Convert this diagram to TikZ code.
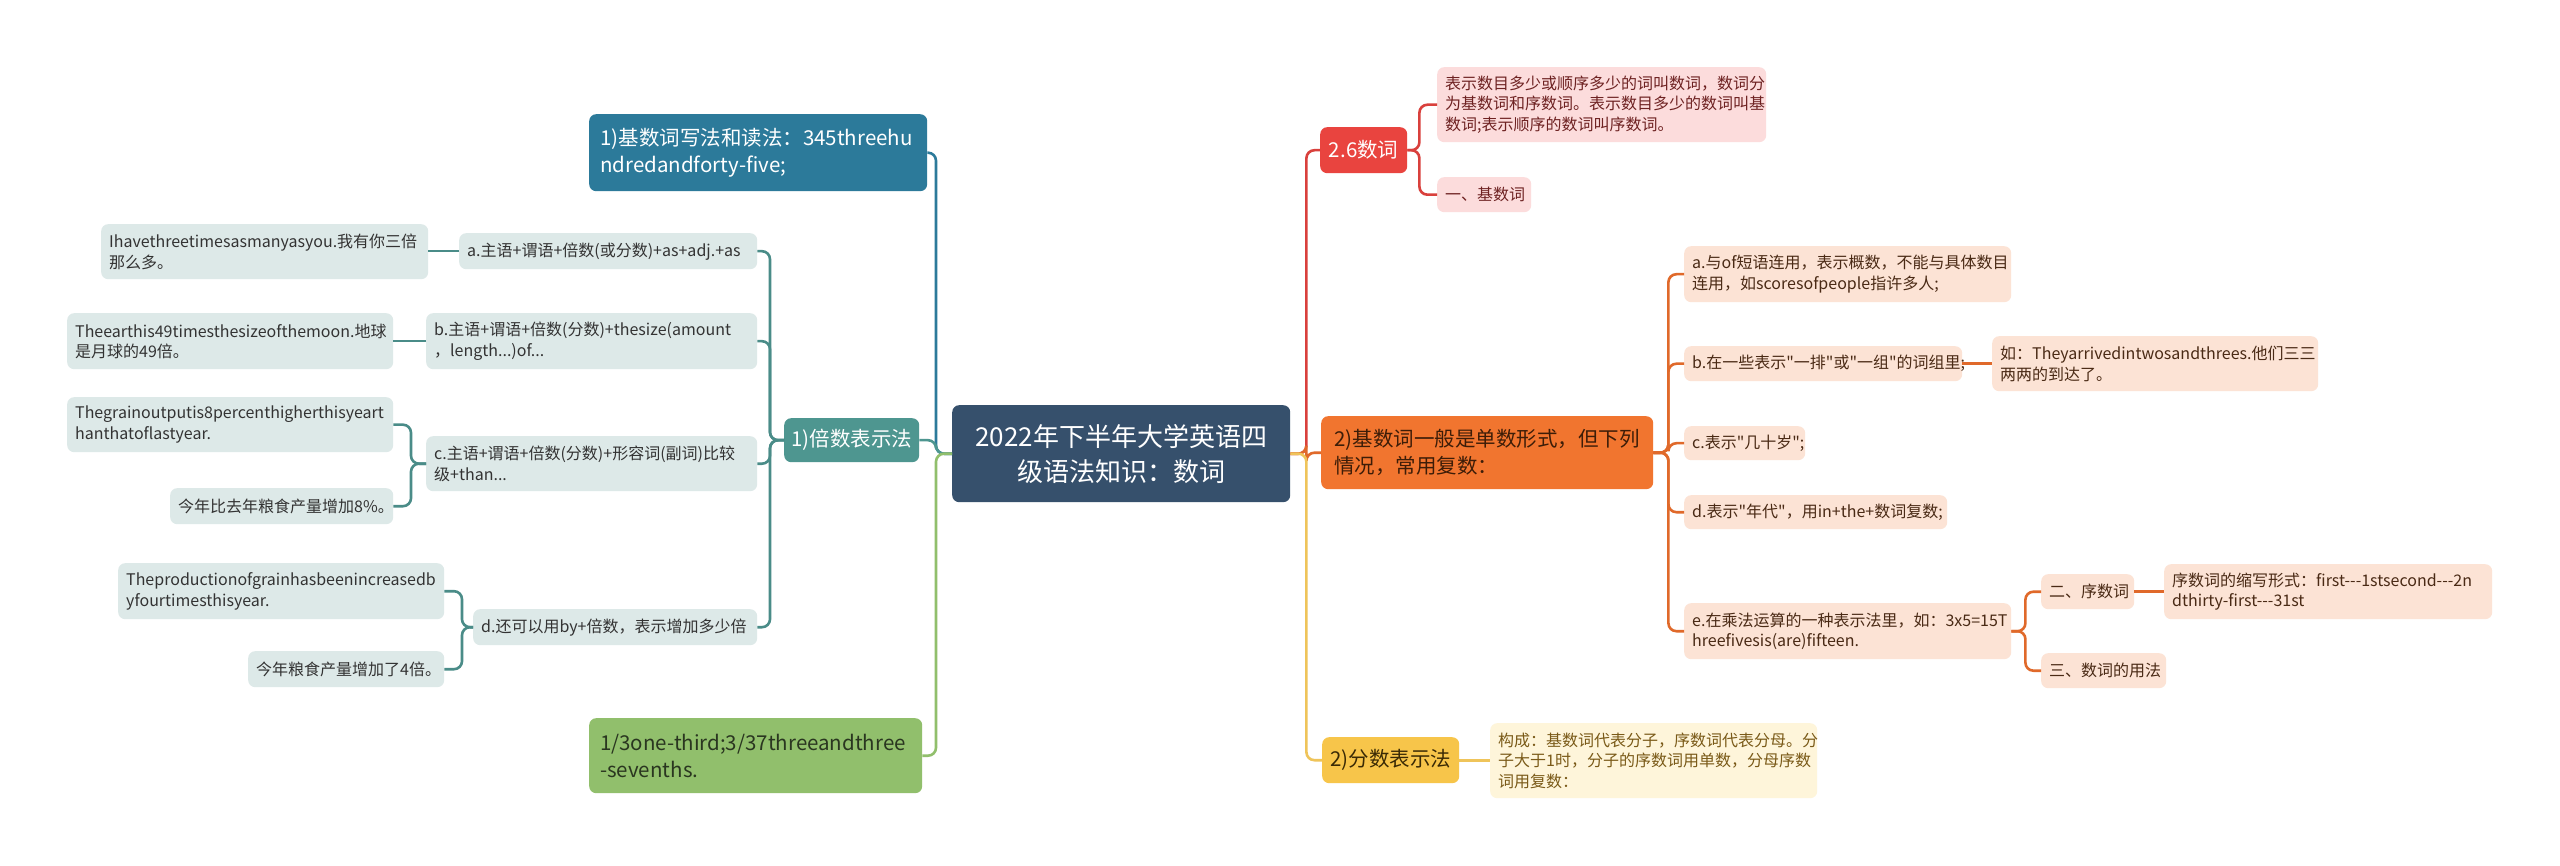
\documentclass[tikz,border=0pt]{standalone}
\usepackage{fontspec}
\setmainfont{Noto Sans CJK SC}[Ligatures=TeXOff]
\definecolor{cenfill}{HTML}{36506C}
\definecolor{bluefill}{HTML}{2C7A9A}
\definecolor{tealfill}{HTML}{4E9690}
\definecolor{tealline}{HTML}{4A8C88}
\definecolor{leafL}{HTML}{DDE9E8}
\definecolor{leafLtext}{HTML}{333333}
\definecolor{greenfill}{HTML}{91BF6C}
\definecolor{greentext}{HTML}{2A3620}
\definecolor{redfill}{HTML}{E9443F}
\definecolor{redline}{HTML}{D9403C}
\definecolor{pinkfill}{HTML}{FCDCDC}
\definecolor{pinktext}{HTML}{6E2222}
\definecolor{orangefill}{HTML}{F1752F}
\definecolor{orangetext}{HTML}{3D1D08}
\definecolor{orangeline}{HTML}{E0692A}
\definecolor{peachfill}{HTML}{FCE3D5}
\definecolor{peachtext}{HTML}{4A2A15}
\definecolor{yellowfill}{HTML}{F7C54A}
\definecolor{yellowtext}{HTML}{3A2A05}
\definecolor{yellowline}{HTML}{EFC45A}
\definecolor{creamfill}{HTML}{FEF5DA}
\definecolor{creamtext}{HTML}{7A5A18}
\newcommand{\mmbox}[8]{%
 \pgfmathsetmacro\mmw{#6-#4}%
 \pgfmathsetmacro\mmh{#7-#5}%
 \pgfmathsetmacro\mmt{#6-#4-2*#3}%
 \node[#2, anchor=north west, minimum width=\mmw pt, minimum height=\mmh pt, text width=\mmt pt] (#1) at (#4,#5) {#8};}
\tikzset{
 box/.style={rounded corners=7pt, inner sep=0pt, draw=none, align=left},
 cen/.style={box, fill=cenfill, text=white, align=center, font=\fontsize{26}{35}\selectfont},
 lvA/.style={box, font=\fontsize{20.5}{27}\selectfont},
 leafs/.style={box, font=\fontsize{16}{20.5}\selectfont},
 leafLs/.style={leafs, fill=leafL, text=leafLtext},
 pinks/.style={leafs, fill=pinkfill, text=pinktext},
 peachs/.style={leafs, fill=peachfill, text=peachtext},
 creams/.style={leafs, fill=creamfill, text=creamtext},
 conn/.style={line width=2.6pt, rounded corners=8pt},
}
\begin{document}
\begin{tikzpicture}[x=1pt,y=-1pt]
\fill[white] (0,0) rectangle (2560,866);
\useasboundingbox (0,0) rectangle (2560,866);

% central
\mmbox{cen}{cen}{10}{952}{405}{1290}{502}{2022年下半年大学英语四\\级语法知识：数词}

% left level 1
\mmbox{jsx}{lvA, fill=bluefill, text=white}{11}{589}{114}{927}{191}{1)基数词写法和读法：345threehu\\ndredandforty-five;}
\mmbox{bs}{lvA, fill=tealfill, text=white, align=center}{3}{784}{418}{919}{462}{1)倍数表示法}
\mmbox{fr}{lvA, fill=greenfill, text=greentext}{11}{589}{718}{922}{793}{1/3one-third;3/37threeandthree\\-sevenths.}

% left level 2
\mmbox{la}{leafLs}{8}{459}{233}{757}{269}{a.主语+谓语+倍数(或分数)+as+adj.+as}
\mmbox{lb}{leafLs}{8}{426}{313}{757}{369}{b.主语+谓语+倍数(分数)+thesize(amount\\，length...)of...}
\mmbox{lc}{leafLs}{8}{426}{436}{757}{491}{c.主语+谓语+倍数(分数)+形容词(副词)比较\\级+than...}
\mmbox{ld}{leafLs}{8}{473}{609}{757}{645}{d.还可以用by+倍数，表示增加多少倍}

% left level 3
\mmbox{la1}{leafLs}{8}{101}{224}{428}{279}{Ihavethreetimesasmanyasyou.我有你三倍\\那么多。}
\mmbox{lb1}{leafLs}{8}{67}{313}{393}{369}{Theearthis49timesthesizeofthemoon.地球\\是月球的49倍。}
\mmbox{lc1}{leafLs}{8}{67}{397}{393}{452}{Thegrainoutputis8percenthigherthisyeart\\hanthatoflastyear.}
\mmbox{lc2}{leafLs}{8}{170}{488}{393}{524}{今年比去年粮食产量增加8\%。}
\mmbox{ld1}{leafLs}{8}{118}{563}{444}{619}{Theproductionofgrainhasbeenincreasedb\\yfourtimesthisyear.}
\mmbox{ld2}{leafLs}{8}{248}{651}{444}{687}{今年粮食产量增加了4倍。}

% right level 1
\mmbox{sc}{lvA, fill=redfill, text=white, align=center}{3}{1320}{127}{1407}{173}{2.6数词}
\mmbox{ys}{lvA, fill=orangefill, text=orangetext}{13}{1321}{416}{1653}{489}{2)基数词一般是单数形式，但下列\\情况，常用复数：}
\mmbox{fs}{lvA, fill=yellowfill, text=yellowtext, align=center}{3}{1322}{737}{1459}{783}{2)分数表示法}

% right: red children
\mmbox{sc1}{pinks}{8}{1437}{67}{1766}{142}{表示数目多少或顺序多少的词叫数词，数词分\\为基数词和序数词。表示数目多少的数词叫基\\数词;表示顺序的数词叫序数词。}
\mmbox{sc2}{pinks}{8}{1437}{177}{1531}{212}{一、基数词}

% right: orange children
\mmbox{oa}{peachs}{8}{1684}{246}{2011}{302}{a.与of短语连用，表示概数，不能与具体数目\\连用，如scoresofpeople指许多人;}
\mmbox{ob}{peachs}{8}{1684}{346}{1962}{381}{b.在一些表示"一排"或"一组"的词组里;}
\mmbox{oc}{peachs}{8}{1684}{426}{1805}{460}{c.表示"几十岁";}
\mmbox{od}{peachs}{8}{1684}{495}{1947}{529}{d.表示"年代"，用in+the+数词复数;}
\mmbox{oe}{peachs}{8}{1684}{603}{2011}{659}{e.在乘法运算的一种表示法里，如：3x5=15T\\hreefivesis(are)fifteen.}
\mmbox{ob1}{peachs}{8}{1992}{336}{2318}{391}{如：Theyarrivedintwosandthrees.他们三三\\两两的到达了。}
\mmbox{oe1}{peachs}{8}{2041}{574}{2134}{609}{二、序数词}
\mmbox{oe2}{peachs}{8}{2041}{653}{2166}{688}{三、数词的用法}
\mmbox{oe11}{peachs}{8}{2164}{564}{2492}{619}{序数词的缩写形式：first---1stsecond---2n\\dthirty-first---31st}

% yellow child
\mmbox{fs1}{creams}{8}{1490}{723}{1817}{798}{构成：基数词代表分子，序数词代表分母。分\\子大于1时，分子的序数词用单数，分母序数\\词用复数：}

% ---- connectors left
\draw[conn, bluefill] (cen.west) -- ++(-16,0) |- (jsx.east);
\draw[conn, tealfill] (cen.west) -- ++(-16,0) |- (bs.east);
\draw[conn, greenfill] (cen.west) -- ++(-16,0) |- (fr.east);

\foreach \c in {la,lb,lc,ld}{\draw[conn, tealline] (bs.west) -- ++(-14,0) |- (\c.east);}
\draw[conn, tealline] (la.west) -- (la.west -| la1.east);
\draw[conn, tealline] (lb.west) -- (lb.west -| lb1.east);
\foreach \c in {lc1,lc2}{\draw[conn, tealline] (lc.west) -- ++(-15,0) |- (\c.east);}
\foreach \c in {ld1,ld2}{\draw[conn, tealline] (ld.west) -- ++(-11,0) |- (\c.east);}

% ---- connectors right
\draw[conn, redline] (cen.east) -- ++(16,0) |- (sc.west);
\draw[conn, orangeline] (cen.east) -- ++(16,0) |- (ys.west);
\draw[conn, yellowline] (cen.east) -- ++(16,0) |- (fs.west);

\foreach \c in {sc1,sc2}{\draw[conn, redline] (sc.east) -- ++(12,0) |- (\c.west);}
\foreach \c in {oa,ob,oc,od,oe}{\draw[conn, orangeline] (ys.east) -- ++(15,0) |- (\c.west);}
\draw[conn, orangeline] (ob.east) -- (ob.east -| ob1.west);
\foreach \c in {oe1,oe2}{\draw[conn, orangeline] (oe.east) -- ++(14,0) |- (\c.west);}
\draw[conn, orangeline] (oe1.east) -- (oe1.east -| oe11.west);
\draw[conn, yellowline] (fs.east) -- (fs.east -| fs1.west);
\end{tikzpicture}
\end{document}
